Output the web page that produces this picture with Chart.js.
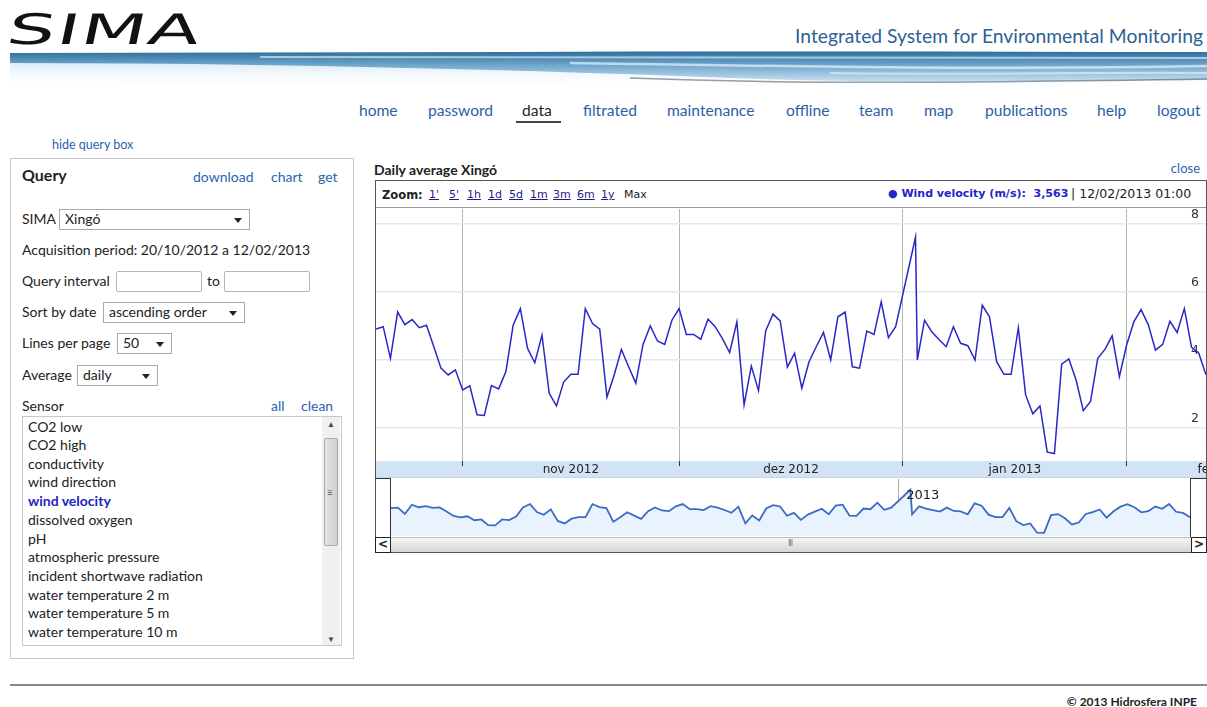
<!DOCTYPE html>
<html>
<head>
<meta charset="utf-8">
<script src="https://cdn.jsdelivr.net/npm/chart.js@4.4.0/dist/chart.umd.min.js"></script>
<style>
  body { margin:0; width:1207px; height:707px; overflow:hidden; position:relative; background:#fff;
         font-family: Lato, "Open Sans", sans-serif; color:#222; }
  .abs { position:absolute; white-space:nowrap; }
  .lnk { color:#2b63ad; }
  .nav { position:absolute; top:101px; font-size:15.6px; color:#2d5ea8; }
  .lbl { position:absolute; font-size:14px; line-height:16px; }
  .box { position:absolute; border:1px solid #b5b5b5; background:#fff; box-sizing:border-box; border-radius:2px; }
  .sel { position:absolute; border:1px solid #a9a9a9; background:#fff; box-sizing:border-box; font-size:14px; line-height:18px; padding-left:5px; }
  .sel:after { content:""; position:absolute; right:7px; top:8px; border-left:4px solid transparent; border-right:4px solid transparent; border-top:5px solid #222; }
  .item { position:absolute; left:28px; font-size:14px; line-height:16px; }
  .zl { position:absolute; top:188px; font:11px "DejaVu Sans"; color:#1c1c8a; text-decoration:underline; }
</style>
</head>
<body>

<!-- header -->
<div class="abs" style="left:13px;top:5px;font:42px 'DejaVu Sans';color:#111;transform:skewX(-12deg) scaleX(1.8);transform-origin:0 0;letter-spacing:1px">SIMA</div>
<div class="abs" style="right:4px;top:25px;font-size:19.3px;line-height:22px;color:#2e5f94">Integrated System for Environmental Monitoring</div>

<svg class="abs" style="left:10px;top:48px" width="1197" height="46">
  <defs>
    <linearGradient id="wv" x1="0" y1="0" x2="0" y2="1">
      <stop offset="0" stop-color="#2d6f9c"/>
      <stop offset="0.45" stop-color="#6ea6cc"/>
      <stop offset="1" stop-color="#c9dff0"/>
    </linearGradient>
    <linearGradient id="fd" x1="0" y1="0" x2="0" y2="1">
      <stop offset="0" stop-color="#d3e6f3"/>
      <stop offset="1" stop-color="#ffffff" stop-opacity="0"/>
    </linearGradient>
  </defs>
  <path d="M0 12 L1197 12 L1197 42 L0 34 Z" fill="url(#fd)"/>
  <path d="M0 5 C400 4 800 3 1197 4 L1197 32 C1000 33 880 36 720 30 C520 22 260 15 0 15 Z" fill="url(#wv)"/>
  <path d="M250 9 C550 10 850 12 1197 10" stroke="#ffffff" stroke-opacity="0.55" stroke-width="2" fill="none"/>
  <path d="M560 15 C760 18 950 22 1197 18" stroke="#ffffff" stroke-opacity="0.6" stroke-width="2.5" fill="none"/>
  <path d="M820 25 C950 27 1080 24 1197 25" stroke="#ffffff" stroke-opacity="0.5" stroke-width="2" fill="none"/>
  <path d="M620 30 C800 37 1000 34 1197 31" stroke="#50616f" stroke-opacity="0.6" stroke-width="1.5" fill="none"/>
</svg>

<div class="nav" style="left:359px">home</div>
<div class="nav" style="left:428px">password</div>
<div class="nav" style="left:522px;color:#222">data</div>
<div class="abs" style="left:516px;top:121px;width:45px;height:2px;background:#444"></div>
<div class="nav" style="left:583px">filtrated</div>
<div class="nav" style="left:667px">maintenance</div>
<div class="nav" style="left:786px">offline</div>
<div class="nav" style="left:859px">team</div>
<div class="nav" style="left:924px">map</div>
<div class="nav" style="left:985px">publications</div>
<div class="nav" style="left:1097px">help</div>
<div class="nav" style="left:1157px">logout</div>

<div class="abs lnk" style="left:52px;top:137px;font-size:12.5px">hide query box</div>

<!-- query panel -->
<div class="abs" style="left:10px;top:158px;width:344px;height:501px;border:1px solid #c8c8c8;box-sizing:border-box"></div>
<div class="lbl" style="left:22px;top:167px;font-weight:bold;font-size:16px">Query</div>
<div class="lbl lnk" style="left:193px;top:169px">download</div>
<div class="lbl lnk" style="left:271px;top:169px">chart</div>
<div class="lbl lnk" style="left:318px;top:169px">get</div>

<div class="lbl" style="left:22px;top:211px">SIMA</div>
<div class="sel" style="left:59px;top:209px;width:191px;height:21px">Xingó</div>
<div class="lbl" style="left:22px;top:242px">Acquisition period: 20/10/2012 a 12/02/2013</div>
<div class="lbl" style="left:22px;top:273px">Query interval</div>
<div class="box" style="left:116px;top:271px;width:86px;height:21px"></div>
<div class="lbl" style="left:207px;top:273px">to</div>
<div class="box" style="left:224px;top:271px;width:86px;height:21px"></div>
<div class="lbl" style="left:22px;top:304px">Sort by date</div>
<div class="sel" style="left:103px;top:302px;width:142px;height:21px">ascending order</div>
<div class="lbl" style="left:22px;top:335px">Lines per page</div>
<div class="sel" style="left:117px;top:333px;width:55px;height:21px">50</div>
<div class="lbl" style="left:22px;top:367px">Average</div>
<div class="sel" style="left:77px;top:365px;width:81px;height:21px">daily</div>
<div class="lbl" style="left:22px;top:398px">Sensor</div>
<div class="lbl lnk" style="left:271px;top:398px">all</div>
<div class="lbl lnk" style="left:301px;top:398px">clean</div>

<div class="abs" style="left:22px;top:416px;width:320px;height:230px;border:1px solid #c8c8c8;box-sizing:border-box"></div>
<div class="abs" style="left:322px;top:417px;width:18px;height:228px;background:#f0f0f0"></div>
<div class="abs" style="left:324px;top:438px;width:14px;height:108px;background:linear-gradient(90deg,#e4e4e4,#d0d0d0);border:1px solid #a8a8a8;box-sizing:border-box;border-radius:2px"></div>
<div class="abs" style="left:327px;top:486px;font-size:10px;color:#555">≡</div>
<div class="abs" style="left:327px;top:419px;font-size:8px;color:#444">▲</div>
<div class="abs" style="left:327px;top:634px;font-size:8px;color:#444">▼</div>
<div class="item" style="top:419px">CO2 low</div>
<div class="item" style="top:437px">CO2 high</div>
<div class="item" style="top:456px">conductivity</div>
<div class="item" style="top:474px">wind direction</div>
<div class="item" style="top:493px;color:#2323c0;font-weight:bold">wind velocity</div>
<div class="item" style="top:512px">dissolved oxygen</div>
<div class="item" style="top:531px">pH</div>
<div class="item" style="top:549px">atmospheric pressure</div>
<div class="item" style="top:568px">incident shortwave radiation</div>
<div class="item" style="top:587px">water temperature 2 m</div>
<div class="item" style="top:605px">water temperature 5 m</div>
<div class="item" style="top:624px">water temperature 10 m</div>

<!-- chart block -->
<div class="abs" style="left:374px;top:161px;font-weight:bold;font-size:14px">Daily average Xingó</div>
<div class="abs lnk" style="right:7px;top:160px;font-size:13px">close</div>

<div class="abs" style="left:375px;top:180px;width:832px;height:373px;border:1px solid #555;box-sizing:border-box"></div>
<div class="abs" style="left:376px;top:207px;width:830px;height:1px;background:#9a9a9a"></div>
<div class="abs" style="left:382px;top:188px;font:bold 11.5px 'DejaVu Sans';color:#222">Zoom:</div>
<div class="zl" style="left:429px">1'</div>
<div class="zl" style="left:449px">5'</div>
<div class="zl" style="left:467px">1h</div>
<div class="zl" style="left:488px">1d</div>
<div class="zl" style="left:509px">5d</div>
<div class="zl" style="left:530px">1m</div>
<div class="zl" style="left:553px">3m</div>
<div class="zl" style="left:577px">6m</div>
<div class="zl" style="left:601px">1y</div>
<div class="abs" style="left:624px;top:188px;font:11px 'DejaVu Sans';color:#222">Max</div>
<div class="abs" style="left:888px;top:187px;font:bold 11px 'DejaVu Sans';color:#2323c8">● Wind velocity (m/s):&nbsp; 3,563</div>
<div class="abs" style="left:1071px;top:186px;font:12.5px 'DejaVu Sans';color:#222">| 12/02/2013 01:00</div>

<div class="abs" style="left:376px;top:209px;width:830px;height:268px">
  <canvas id="mainChart" width="830" height="268"></canvas>
</div>

<!-- navigator -->
<div class="abs" style="left:376px;top:477px;width:830px;height:1px;background:#c4d6ea"></div>
<div class="abs" style="left:375px;top:478px;width:16px;height:59px;border-top:1px solid #333;border-right:1px solid #333;box-sizing:border-box"></div>
<div class="abs" style="left:1190px;top:478px;width:17px;height:59px;border-top:1px solid #333;border-left:1px solid #333;box-sizing:border-box"></div>
<div class="abs" style="left:391px;top:479px;width:799px;height:57px">
  <canvas id="navChart" width="799" height="57"></canvas>
</div>
<div class="abs" style="left:375px;top:537px;width:832px;height:15px;background:linear-gradient(#f6f6f6,#d4d4d4);border-top:1px solid #bbb;box-sizing:border-box"></div>
<div class="abs" style="left:375px;top:537px;width:16px;height:16px;border:1px solid #222;background:#fff;box-sizing:border-box;font:bold 12px 'DejaVu Sans';line-height:13px;text-align:center">&lt;</div>
<div class="abs" style="left:1191px;top:537px;width:16px;height:16px;border:1px solid #222;background:#fff;box-sizing:border-box;font:bold 12px 'DejaVu Sans';line-height:13px;text-align:center">&gt;</div>
<div class="abs" style="left:788px;top:539px;font:8px 'DejaVu Sans';color:#777;letter-spacing:-1px">III</div>

<!-- footer -->
<div class="abs" style="left:10px;top:684px;width:1197px;height:2px;background:#8a8a8a"></div>
<div class="abs" style="right:10px;top:694px;font-weight:bold;font-size:12px">© 2013 Hidrosfera INPE</div>

<script>
// dias desde 20/10/2012 (média diária)
const windDays = [
  0,1,2,3,4,5,6,7,8,9,10,11,12,13,14,15,16,17,18,19,
  20,21,22,23,24,25,26,27,28,29,30,31,32,33,34,35,36,37,38,39,
  40,41,42,43,44,45,46,47,48,49,50,51,52,53,54,55,56,57,58,59,
  60,61,62,63,64,65,66,67,68,69,70,71,72,74.75,75,76,77,78,79,80,
  81,82,83,84,85,86,87,88,89,90,91,92,93,94,95,96,97,98,99,100,
  101,102,103,104,105,106,107,108,109,110,111,112,113,114,115
];
const windVelocity = [
  4.91,4.98,4.05,5.41,5.04,5.19,4.95,5.02,4.40,3.76,
  3.56,3.71,3.12,3.24,2.39,2.37,3.25,3.15,3.66,5.02,
  5.51,4.34,3.92,4.73,3.02,2.65,3.35,3.58,3.58,5.51,
  5.07,4.91,2.91,3.56,4.31,3.80,3.32,4.46,5.00,4.56,
  4.46,5.17,5.51,4.75,4.75,4.61,5.20,4.98,4.63,4.22,
  5.12,2.68,3.82,3.10,4.86,5.35,5.15,3.79,4.20,3.17,
  3.95,4.39,4.81,4.00,5.27,5.41,3.80,3.76,4.85,4.75,
  5.71,4.66,4.98,7.61,4.00,5.17,4.83,4.60,4.39,4.98,
  4.49,4.42,4.00,5.61,5.27,3.95,3.58,3.58,4.95,2.98,
  2.42,2.65,1.29,1.25,3.88,4.03,3.41,2.51,2.78,4.05,
  4.31,4.71,3.51,4.44,5.12,5.48,5.04,4.29,4.46,5.14,
  4.81,5.51,4.37,4.20,3.563
];
const monthStarts = [12, 42, 73, 104];
const monthMids = [27, 57.5, 88.5, 117.5];
const monthLabels = ['nov 2012', 'dez 2012', 'jan 2013', 'fev 2013'];
const yTicks = [2, 4, 6, 8];
const yearStarts = [73];
const yearLabels = ['2013'];

const points = windDays.map((d, i) => ({ x: d, y: windVelocity[i] }));

Chart.defaults.font.family = "'DejaVu Sans', sans-serif";
Chart.defaults.animation = false;

// faixa azul sob o gráfico + rótulos de texto
const bandPlugin = {
  id: 'band',
  beforeDraw(chart, args, opts) {
    const { ctx, chartArea, width, height } = chart;
    if (!opts.color) return;
    ctx.save();
    ctx.fillStyle = opts.color;
    ctx.fillRect(0, chartArea.bottom, width, height - chartArea.bottom);
    ctx.restore();
  },
  afterDraw(chart, args, opts) {
    if (!opts.labels) return;
    const { ctx, chartArea, height } = chart;
    const sx = chart.scales.x;
    ctx.save();
    ctx.fillStyle = '#222';
    ctx.font = opts.font;
    ctx.textAlign = opts.align;
    ctx.textBaseline = 'middle';
    const y = opts.inBand ? (chartArea.bottom + height) / 2 + 1 : chartArea.top + opts.dy;
    opts.labels.forEach((t, i) => {
      ctx.fillText(t, sx.getPixelForValue(opts.at[i]) + (opts.dx || 0), y);
    });
    ctx.restore();
  }
};

new Chart(document.getElementById('mainChart'), {
  type: 'line',
  data: {
    datasets: [{
      label: 'Wind velocity (m/s)',
      data: points,
      borderColor: '#2828c8',
      borderWidth: 1.5,
      pointRadius: 0,
      tension: 0
    }]
  },
  options: {
    responsive: false,
    devicePixelRatio: 1,
    layout: { padding: { top: 0, bottom: 11 } },
    plugins: {
      legend: { display: false },
      tooltip: { enabled: false },
      band: {
        color: '#d2e3f6',
        labels: monthLabels, at: monthMids,
        font: "12px 'DejaVu Sans'", align: 'center', inBand: true
      }
    },
    scales: {
      x: {
        type: 'linear', min: 0, max: 115,
        afterBuildTicks: axis => { axis.ticks = monthStarts.map(v => ({ value: v })); },
        ticks: { display: false },
        grid: { color: '#b4b4b4', lineWidth: 1, drawTicks: true, tickLength: 5, tickColor: '#333' },
        border: { display: false }
      },
      y: {
        position: 'right', min: 1.03, max: 8.44,
        afterBuildTicks: axis => { axis.ticks = yTicks.map(v => ({ value: v })); },
        // rótulos dentro do gráfico, sem ocupar espaço
        afterFit: axis => { axis.width = 0; axis.paddingTop = 0; axis.paddingBottom = 0; },
        ticks: { mirror: true, padding: -7, labelOffset: -9, color: '#333', font: { size: 12.5 } },
        grid: { color: '#e6e6f0', lineWidth: 1.5, drawTicks: false },
        border: { display: false }
      }
    }
  },
  plugins: [bandPlugin]
});

new Chart(document.getElementById('navChart'), {
  type: 'line',
  data: {
    datasets: [{
      data: points,
      borderColor: '#3b6cc4',
      borderWidth: 1.8,
      backgroundColor: '#e8f3fd',
      fill: 'start',
      pointRadius: 0,
      tension: 0
    }]
  },
  options: {
    responsive: false,
    devicePixelRatio: 1,
    layout: { padding: 0 },
    plugins: {
      legend: { display: false },
      tooltip: { enabled: false },
      band: {
        labels: yearLabels, at: yearStarts,
        font: "13px 'DejaVu Sans'", align: 'left', dx: 8, dy: 17
      }
    },
    scales: {
      x: {
        type: 'linear', min: 0, max: 115,
        afterBuildTicks: axis => { axis.ticks = yearStarts.map(v => ({ value: v })); },
        ticks: { display: false },
        grid: { color: '#aaaaaa', drawTicks: false },
        border: { display: false }
      },
      y: { display: false, min: 0.8, max: 9.2 }
    }
  },
  plugins: [bandPlugin]
});
</script>
</body>
</html>
